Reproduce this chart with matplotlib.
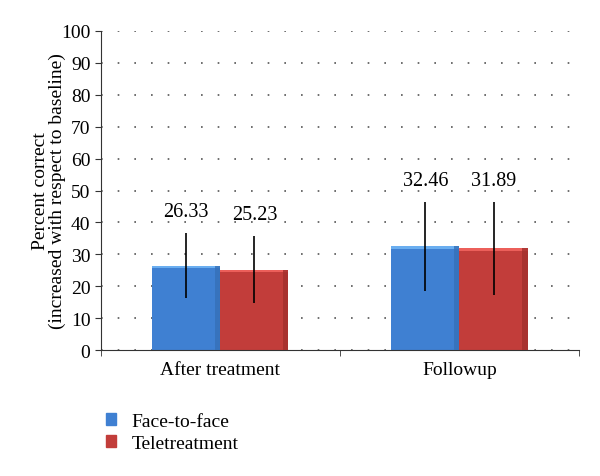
import matplotlib.pyplot as plt
import numpy as np
from matplotlib.patches import Rectangle

categories = ["After treatment", "Followup"]
series_names = ["Face-to-face", "Teletreatment"]
face_vals = [26.33, 32.46]
tele_vals = [25.23, 31.89]
face_err_lo = [16.3, 18.5]
face_err_hi = [36.7, 46.4]
tele_err_lo = [14.7, 17.2]
tele_err_hi = [35.7, 46.4]

face_col = "#3f80d2"
tele_col = "#c23d3a"
face_light = "#6aaef0"
tele_light = "#ec5f5a"
face_dark = "#3570b8"
tele_dark = "#a2302d"

plt.rcParams['font.family'] = ['Liberation Serif', 'DejaVu Serif']

fig = plt.figure(figsize=(6, 4.77), dpi=100)
ax = fig.add_axes([0.168, 0.264, 0.797, 0.669])

x = np.arange(len(categories))
w = 0.285

series = [
    (face_vals, face_err_lo, face_err_hi, face_col, face_light, face_dark, -w / 2),
    (tele_vals, tele_err_lo, tele_err_hi, tele_col, tele_light, tele_dark, w / 2),
]
for vals, lo, hi, col, light, dark, off in series:
    ax.bar(x + off, vals, w, color=col, zorder=2)
    # bevel: lighter strip on top, darker strip on right
    ax.bar(x + off, [0.7] * len(vals), w, bottom=np.array(vals) - 0.7,
           color=light, zorder=3)
    ax.bar(x + off + w / 2 - 0.012, vals, 0.024, color=dark, zorder=3, alpha=0.8)
    ax.vlines(x + off, lo, hi, color="black", lw=1.2, zorder=4)
    for xi, v, h in zip(x + off, vals, hi):
        ax.text(xi, h + 3.8, f"{v:.2f}", ha="center", va="bottom", fontsize=14.5)

ax.set_xlim(-0.5, 1.5)
ax.set_ylim(0, 100)
ax.set_yticks(range(0, 101, 10))
ax.set_yticks([], minor=True)
ax.set_xticks(x)
ax.set_xticklabels(categories, fontsize=14)
ax.tick_params(axis="x", which="major", length=0, pad=8)
ax.set_xticks([-0.5, 0.5, 1.5], minor=True)
ax.tick_params(axis="x", which="minor", direction="out", length=4, color="#333333")
ax.tick_params(axis="y", direction="out", length=4, labelsize=14, color="#333333")
ax.yaxis.grid(True, linestyle=(0, (1, 9)), color="#555555", lw=1.2, zorder=0)
ax.set_axisbelow(True)
for s in ["top", "right"]:
    ax.spines[s].set_visible(False)
ax.spines["left"].set_color("#333333")
ax.spines["bottom"].set_color("#333333")
ax.set_ylabel("Percent correct\n(increased with respect to baseline)", fontsize=14,
              linespacing=1.0)
ax.yaxis.set_label_coords(-0.072, 0.5)

handles = [Rectangle((0, 0), 1, 1, color=face_col), Rectangle((0, 0), 1, 1, color=tele_col)]
fig.legend(handles, series_names, loc="upper left", bbox_to_anchor=(0.163, 0.148),
           frameon=False, fontsize=14, handlelength=0.55, handleheight=0.55,
           labelspacing=0.25, handletextpad=0.8, borderaxespad=0)

fig.savefig("out.png", dpi=100)
